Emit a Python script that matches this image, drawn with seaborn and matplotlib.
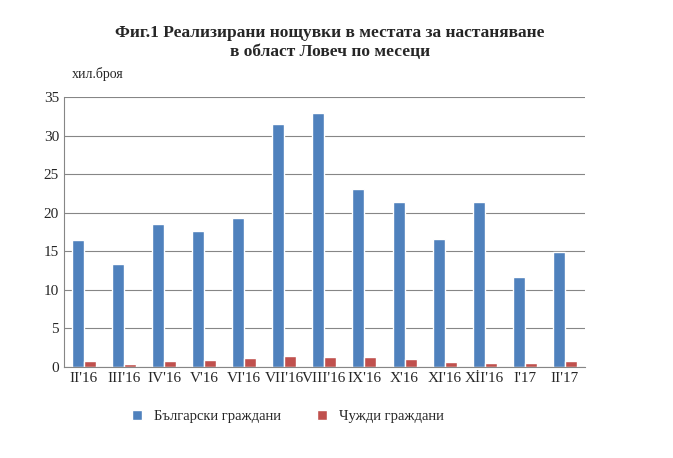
import matplotlib
matplotlib.use('Agg')
import matplotlib.pyplot as plt
import pandas as pd
import seaborn as sns

months = ["II'16", "III'16", "IV'16", "V'16", "VI'16", "VII'16", "VIII'16",
          "IX'16", "X'16", "XI'16", "XİI'16", "I'17", "II'17"]
bulgarian = [16.5, 13.3, 18.5, 17.6, 19.3, 31.5, 32.9, 23.1, 21.4, 16.6, 21.4, 11.6, 14.9]
foreign = [0.8, 0.4, 0.8, 0.95, 1.2, 1.45, 1.3, 1.3, 1.05, 0.6, 0.5, 0.5, 0.8]
series = ['Български граждани', 'Чужди граждани']

df = pd.DataFrame({'month': months * 2,
                   'value': bulgarian + foreign,
                   'series': [series[0]] * 13 + [series[1]] * 13})

sns.set_style('white')
plt.rcParams['font.family'] = ['Liberation Serif', 'DejaVu Serif']

fig = plt.figure(figsize=(6.73, 4.58), dpi=100)
ax = fig.add_axes([0.095, 0.199, 0.774, 0.589])
sns.barplot(data=df, x='month', y='value', hue='series', order=months,
            palette=['#4f81bd', '#c0504d'], width=0.6, saturation=1, ax=ax)
ax.set_ylim(0, 35)
ax.set_yticks(range(0, 36, 5))
ax.yaxis.grid(True, color='#868686', lw=0.8)
ax.set_axisbelow(True)
for s in ['top', 'right']:
    ax.spines[s].set_visible(False)
ax.spines['left'].set_color('#868686')
ax.spines['bottom'].set_color('#868686')
ax.tick_params(axis='both', labelsize=11, length=0)
ax.set_xlabel('')
ax.set_ylabel('')
ax.text(0.015, 1.07, 'хил.броя', transform=ax.transAxes, fontsize=10)
fig.suptitle('Фиг.1 Реализирани нощувки в местата за настаняване\nв област Ловеч по месеци',
             fontsize=12.5, fontweight='bold', y=0.945, x=0.49)
ax.legend(loc='upper center', bbox_to_anchor=(0.43, -0.11), ncol=2, frameon=False,
          fontsize=10.5, handlelength=0.7, handleheight=0.7, columnspacing=2.5)
fig.savefig('out.png', dpi=100)
